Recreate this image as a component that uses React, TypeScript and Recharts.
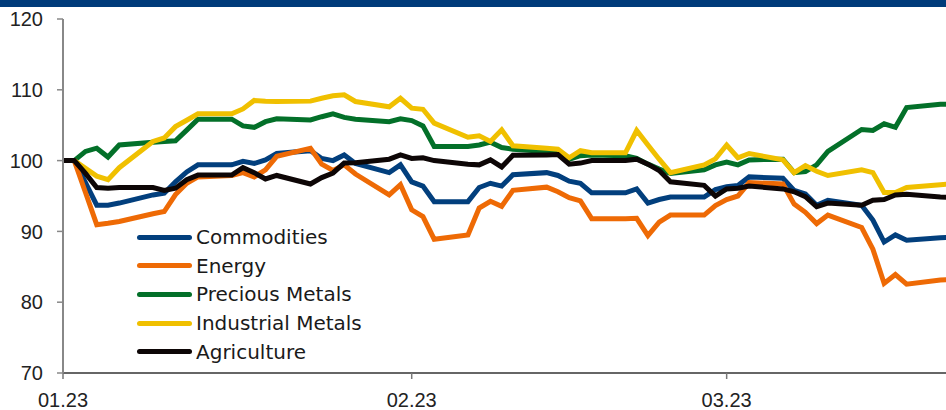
import { LineChart, Line, XAxis, YAxis } from 'recharts';

// day offset from 1 Jan 2023 (business days, plus 1 Jan as base)
const days = [
  0, 1, 2, 3, 4, 5, 8, 9, 10, 11, 12, 15, 16, 17, 18, 19, 22, 23, 24, 25, 26, 29, 30,
  31, 32, 33, 36, 37, 38, 39, 40, 43, 44, 45, 46, 47, 50, 51, 52, 53, 54, 57, 58,
  59, 60, 61, 64, 65, 66, 67, 68, 71, 72, 73, 74, 75, 78, 79,
];

const commodities = [
  100, 100, 96.9, 93.7, 93.7, 94.0, 95.15, 95.4, 97.0, 98.4, 99.4, 99.4, 99.9, 99.6, 100.1, 101.0, 101.4, 100.3, 100.0, 100.8, 99.6, 98.3, 99.4,
  97.0, 96.4, 94.2, 94.2, 96.2, 96.8, 96.4, 98.0, 98.3, 97.9, 97.1, 96.8, 95.45, 95.45, 96.0, 94.0, 94.5, 94.85, 94.85, 95.9,
  96.3, 96.5, 97.7, 97.5, 95.8, 95.3, 93.7, 94.4, 93.7, 91.6, 88.5, 89.5, 88.75, 89.1, 89.15,
];

const energy = [
  100, 100, 95.5, 90.95, 91.15, 91.4, 92.5, 92.8, 95.2, 96.8, 97.7, 97.9, 98.3, 97.7, 98.7, 100.6, 101.75, 99.5, 98.6, 99.4, 98.1, 95.15, 96.6,
  93.05, 92.1, 88.9, 89.5, 93.3, 94.25, 93.55, 95.8, 96.25, 95.6, 94.75, 94.3, 91.8, 91.8, 91.85, 89.4, 91.3, 92.3, 92.3, 93.65,
  94.5, 95.0, 96.9, 96.7, 93.85, 92.7, 91.1, 92.3, 90.55, 87.5, 82.65, 83.9, 82.55, 83.15, 83.2,
];

const preciousMetals = [
  100, 100, 101.3, 101.75, 100.5, 102.2, 102.6, 102.7, 102.8, 104.3, 105.85, 105.85, 104.9, 104.7, 105.5, 105.9, 105.75, 106.2, 106.6, 106.1, 105.85, 105.5, 105.9,
  105.65, 104.9, 102.0, 102.0, 102.2, 102.6, 101.85, 101.6, 101.3, 101.1, 100.2, 100.7, 100.8, 100.7, 100.3, 99.5, 98.8, 98.2, 98.7, 99.4,
  99.8, 99.4, 100.1, 100.2, 98.3, 98.45, 99.4, 101.3, 104.4, 104.25, 105.2, 104.7, 107.5, 107.95, 108.0,
];

const industrialMetals = [
  100, 100, 98.9, 97.8, 97.3, 99.0, 102.7, 103.2, 104.8, 105.7, 106.6, 106.6, 107.3, 108.5, 108.4, 108.35, 108.4, 108.8, 109.15, 109.3, 108.35, 107.6, 108.8,
  107.4, 107.25, 105.3, 103.3, 103.5, 102.7, 104.35, 102.1, 101.75, 101.6, 100.4, 101.4, 101.1, 101.1, 104.25, 102.2, 100.2, 98.3, 99.4, 100.25,
  102.2, 100.4, 101.0, 100.1, 98.3, 99.3, 98.5, 97.9, 98.7, 98.3, 95.5, 95.5, 96.2, 96.6, 96.7,
];

const agriculture = [
  100, 100, 98.2, 96.2, 96.1, 96.2, 96.2, 95.8, 96.1, 97.3, 97.95, 97.95, 99.0, 98.3, 97.4, 97.9, 96.7, 97.6, 98.25, 99.65, 99.7, 100.2, 100.8,
  100.3, 100.4, 100.0, 99.5, 99.4, 100.1, 99.1, 100.75, 100.8, 100.85, 99.5, 99.65, 100.0, 100.0, 100.2, 99.5, 98.6, 97.0, 96.5, 95.0,
  96.0, 96.1, 96.4, 96.0, 95.6, 94.9, 93.5, 94.0, 93.7, 94.4, 94.5, 95.15, 95.25, 94.85, 94.8,
];

const xTicks = [0, 31, 59];
const xTickLabels = ['01.23', '02.23', '03.23'];
const yTicks = [70, 80, 90, 100, 110, 120];

const series = [
  { key: 'commodities', name: 'Commodities', color: '#023f7d', values: commodities },
  { key: 'energy', name: 'Energy', color: '#ee6a05', values: energy },
  { key: 'precious', name: 'Precious Metals', color: '#037029', values: preciousMetals },
  { key: 'industrial', name: 'Industrial Metals', color: '#f0c000', values: industrialMetals },
  { key: 'agriculture', name: 'Agriculture', color: '#0d0606', values: agriculture },
];

const data = days.map((day, i) => {
  const row: Record<string, number> = { day };
  series.forEach((s) => {
    row[s.key] = s.values[i];
  });
  return row;
});

const TICK_FONT = "'Liberation Sans', Arial, sans-serif";

const YTick = (props: any) => (
  <text x={43} y={props.y} dy="0.36em" textAnchor="end" fontFamily={TICK_FONT} fontSize={20} fill="#222">
    {props.payload.value}
  </text>
);

const XTick = (props: any) => (
  <text x={props.x} y={400} dy="0.36em" textAnchor="middle" fontFamily={TICK_FONT} fontSize={20} fill="#222">
    {xTickLabels[xTicks.indexOf(props.payload.value)]}
  </text>
);

// legend sits inside the plot, lower left
const ChartLegend = () => (
  <div
    style={{
      position: 'absolute',
      left: 137,
      top: 223,
      fontFamily: 'DejaVu Sans',
      fontSize: 20,
      color: '#1a1a1a',
    }}
  >
    {series.map((s) => (
      <div key={s.key} style={{ display: 'flex', alignItems: 'center', height: 28.6, lineHeight: 1 }}>
        <span
          style={{
            display: 'inline-block',
            width: 55,
            height: 5,
            borderRadius: 3,
            background: s.color,
            marginRight: 4,
          }}
        />
        <span>{s.name}</span>
      </div>
    ))}
  </div>
);

export default function App() {
  return (
    <div style={{ position: 'absolute', left: 0, top: 0, width: 946, height: 410, background: '#fff', overflow: 'hidden' }}>
      <div style={{ position: 'absolute', left: 0, top: 0, width: 946, height: 7, background: '#003b7a' }} />
      <LineChart width={946} height={410} data={data} margin={{ top: 19, right: 0, bottom: 0, left: 0 }}>
        <XAxis
          dataKey="day"
          type="number"
          domain={[0, 78.5]}
          allowDataOverflow
          ticks={xTicks}
          height={37}
          tick={<XTick />}
          tickSize={6}
          axisLine={{ stroke: '#333', strokeWidth: 1.5 }}
          tickLine={{ stroke: '#777', strokeWidth: 1.5 }}
        />
        <YAxis
          domain={[70, 120]}
          ticks={yTicks}
          width={63}
          tick={<YTick />}
          tickSize={6}
          axisLine={{ stroke: '#888', strokeWidth: 2 }}
          tickLine={{ stroke: '#888', strokeWidth: 1.5 }}
        />
        {series.map((s) => (
          <Line
            key={s.key}
            type="linear"
            dataKey={s.key}
            name={s.name}
            stroke={s.color}
            strokeWidth={5}
            dot={false}
            isAnimationActive={false}
          />
        ))}
      </LineChart>
      <ChartLegend />
    </div>
  );
}
